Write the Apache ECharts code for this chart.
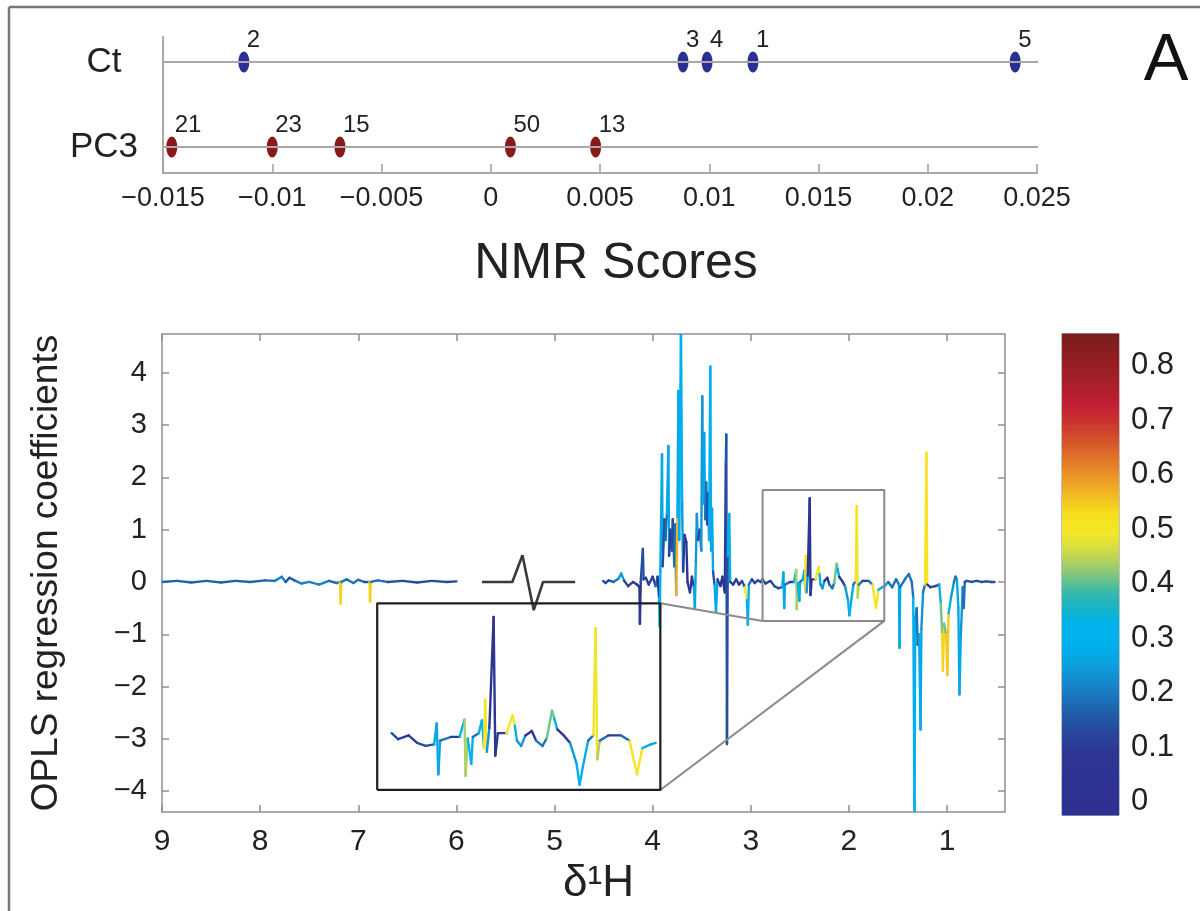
<!DOCTYPE html>
<html><head><meta charset="utf-8">
<script src="https://cdn.jsdelivr.net/npm/echarts@6/dist/echarts.min.js"></script>
<style>html,body{margin:0;padding:0;background:#fff}#c{width:1200px;height:911px}</style>
</head><body><div id="c"></div>
<script>
// ---------------- data ----------------
const rowNames = ['PC3', 'Ct'];
const ctScores = [0.0120, -0.0113, 0.0088, 0.0099, 0.0240];
const ctLabels = ['1', '2', '3', '4', '5'];
const pc3Scores = [-0.0146, -0.0100, -0.0069, 0.0009, 0.0048];
const pc3Labels = ['21', '23', '15', '50', '13'];
const scoreMin = -0.015, scoreMax = 0.025, scoreStep = 0.005, rowLineEnd = 0.0255;

// aromatic region (9.0 - 6.0 ppm)
const aroPpm = [9.00, 8.85, 8.70, 8.55, 8.40, 8.25, 8.10, 7.95, 7.85, 7.78,
  7.74, 7.70, 7.65, 7.58, 7.50, 7.40, 7.30, 7.22, 7.185, 7.180,
  7.172, 7.12, 7.05, 7.00, 6.94, 6.885, 6.880, 6.872, 6.80, 6.70,
  6.55, 6.40, 6.25, 6.10, 6.00];
const aroCoef = [0.00, 0.02, -0.01, 0.02, -0.01, 0.02, 0.00, 0.03, 0.02, 0.10,
  0.00, 0.08, 0.03, -0.03, 0.00, -0.05, 0.02, -0.02, 0.00, -0.42,
  0.00, 0.05, -0.02, 0.04, 0.00, 0.00, -0.38, 0.00, 0.03, 0.00,
  0.02, -0.01, 0.02, 0.00, 0.01];
const aroCorr = [0.20, 0.18, 0.20, 0.18, 0.20, 0.18, 0.20, 0.18, 0.20, 0.22,
  0.18, 0.15, 0.20, 0.22, 0.18, 0.22, 0.18, 0.20, 0.22, 0.55,
  0.20, 0.20, 0.15, 0.20, 0.15, 0.20, 0.55, 0.20, 0.20, 0.12,
  0.15, 0.12, 0.15, 0.12, 0.15];

// aliphatic region (4.5 - 0.5 ppm)
const aliPpm = [4.506, 4.480, 4.450, 4.400, 4.350, 4.320, 4.290, 4.250, 4.200, 4.160,
  4.135, 4.130, 4.122, 4.100, 4.093, 4.070, 4.040, 4.000, 3.970, 3.950,
  3.935, 3.928, 3.922, 3.905, 3.898, 3.880, 3.870, 3.855, 3.840, 3.833,
  3.820, 3.805, 3.795, 3.780, 3.770, 3.760, 3.748, 3.738, 3.730, 3.712,
  3.700, 3.690, 3.675, 3.657, 3.645, 3.620, 3.600, 3.580, 3.570, 3.560, 3.550,
  3.540, 3.520, 3.505, 3.495, 3.488, 3.475, 3.465, 3.455, 3.445, 3.435,
  3.425, 3.413, 3.405, 3.395, 3.385, 3.370, 3.355, 3.340, 3.310, 3.290, 3.265,
  3.255, 3.250, 3.243, 3.235, 3.220, 3.210, 3.180, 3.150, 3.120, 3.090,
  3.060, 3.040, 3.030, 3.020, 2.990, 2.960, 2.930, 2.900, 2.880, 2.850,
  2.800, 2.760, 2.720, 2.680, 2.668, 2.660, 2.652, 2.600, 2.560, 2.537,
  2.532, 2.522, 2.505, 2.498, 2.470, 2.455, 2.445, 2.440, 2.432, 2.420,
  2.400, 2.392, 2.380, 2.340, 2.310, 2.300, 2.290, 2.270, 2.250, 2.220,
  2.200, 2.170, 2.150, 2.125, 2.115, 2.100, 2.070, 2.040, 2.010, 1.995,
  1.980, 1.955, 1.930, 1.920, 1.912, 1.900, 1.860, 1.800, 1.760, 1.725,
  1.700, 1.660, 1.637, 1.600, 1.560, 1.520, 1.490, 1.485, 1.478, 1.430,
  1.390, 1.360, 1.345, 1.332, 1.325, 1.310, 1.300, 1.285, 1.271, 1.262,
  1.245, 1.225, 1.210, 1.203, 1.170, 1.120, 1.080, 1.065, 1.050, 1.043,
  1.030, 1.010, 0.997, 0.985, 0.960, 0.930, 0.915, 0.900, 0.885, 0.874,
  0.860, 0.840, 0.830, 0.820, 0.800, 0.750, 0.700, 0.650, 0.600, 0.550, 0.517];
const aliCoef = [0.02, -0.02, 0.03, 0.00, 0.06, 0.16, 0.02, -0.08, 0.00, -0.05,
  -0.10, -0.80, 0.00, 0.63, 0.05, 0.08, -0.05, 0.10, -0.08, 0.10,
  -0.30, -0.85, 0.20, 2.44, 0.30, 1.20, 0.80, 1.30, 2.60, 0.50,
  1.00, 0.60, 1.20, 0.30, 1.10, -0.25, 1.25, 3.65, 0.80, 4.90,
  1.50, 0.20, 0.90, 0.76, 0.00, -0.20, 0.10, -0.10, -0.50, 0.40, 1.30,
  0.80, 1.00, 0.60, 3.55, 1.50, 2.85, 1.20, 1.90, 1.10, 1.70,
  0.80, 4.12, 0.60, 1.40, 0.20, -0.05, -0.57, 0.05, -0.08, 0.10, -0.20,
  2.28, 2.82, -3.10, 0.50, 1.30, 0.00, -0.05, 0.05, -0.05, 0.02,
  -0.10, -0.35, -0.82, -0.05, 0.05, -0.02, 0.03, 0.00, 0.05, -0.03,
  0.02, -0.08, -0.12, -0.10, 0.18, -0.50, -0.05, 0.00, 0.00, 0.23,
  -0.52, -0.02, -0.36, 0.00, 0.05, 0.22, -0.15, 0.50, -0.20, 0.12,
  1.60, -0.25, 0.05, 0.05, 0.29, 0.15, -0.05, -0.12, 0.02, 0.08,
  -0.05, -0.12, -0.02, 0.35, 0.25, 0.10, 0.02, -0.08, -0.35, -0.64,
  -0.40, -0.05, 0.02, 1.45, -0.30, -0.05, 0.02, 0.02, -0.05, -0.50,
  -0.15, -0.10, -0.08, 0.00, -0.10, 0.05, -0.05, -1.26, -0.10, 0.05,
  0.15, 0.00, -0.30, -4.50, -0.70, -0.50, -1.20, -1.00, -2.82, -0.90,
  -0.20, -0.05, 2.47, -0.05, -0.10, -0.08, -0.05, -0.40, -1.00, -1.70,
  -0.80, -1.00, -1.78, -0.60, -0.30, 0.00, 0.10, 0.05, -0.50, -2.15,
  -1.00, -0.10, -0.50, 0.00, 0.02, 0.00, 0.02, 0.00, 0.01, 0.00, 0.00];
const aliCorr = [0.15, 0.12, 0.15, 0.12, 0.20, 0.25, 0.15, 0.12, 0.12, 0.10,
  0.10, 0.08, 0.10, 0.15, 0.12, 0.12, 0.10, 0.12, 0.10, 0.20,
  0.08, 0.30, 0.25, 0.28, 0.20, 0.15, 0.12, 0.20, 0.28, 0.15,
  0.12, 0.10, 0.15, 0.08, 0.20, 0.06, 0.58, 0.28, 0.20, 0.30,
  0.25, 0.15, 0.12, 0.08, 0.10, 0.08, 0.12, 0.10, 0.28, 0.20, 0.25,
  0.20, 0.15, 0.12, 0.25, 0.20, 0.28, 0.15, 0.20, 0.12, 0.15,
  0.12, 0.30, 0.20, 0.28, 0.15, 0.12, 0.28, 0.10, 0.12, 0.10, 0.08,
  0.10, 0.28, 0.15, 0.20, 0.32, 0.15, 0.12, 0.12, 0.10, 0.12,
  0.15, 0.50, 0.30, 0.20, 0.12, 0.12, 0.15, 0.12, 0.15, 0.12,
  0.15, 0.12, 0.15, 0.20, 0.28, 0.28, 0.20, 0.12, 0.15, 0.30,
  0.45, 0.20, 0.30, 0.15, 0.20, 0.30, 0.15, 0.52, 0.25, 0.30,
  0.08, 0.08, 0.12, 0.12, 0.50, 0.30, 0.20, 0.25, 0.15, 0.06,
  0.12, 0.20, 0.15, 0.42, 0.30, 0.10, 0.08, 0.12, 0.25, 0.30,
  0.28, 0.20, 0.12, 0.52, 0.45, 0.20, 0.12, 0.12, 0.20, 0.52,
  0.30, 0.28, 0.25, 0.15, 0.20, 0.20, 0.15, 0.28, 0.20, 0.15,
  0.20, 0.15, 0.20, 0.30, 0.25, 0.15, 0.20, 0.25, 0.28, 0.25,
  0.20, 0.15, 0.52, 0.30, 0.12, 0.12, 0.15, 0.30, 0.42, 0.55,
  0.40, 0.42, 0.56, 0.35, 0.25, 0.20, 0.20, 0.20, 0.28, 0.28,
  0.25, 0.20, 0.20, 0.15, 0.15, 0.15, 0.15, 0.15, 0.15, 0.15, 0.15];

// axis-break glyph drawn in the removed water region
const breakPpm = [5.74, 5.43, 5.327, 5.212, 5.117, 4.79];
const breakVal = [0, 0, 0.51, -0.54, 0, 0];

// zoom box (source) and the enlarged inset
const zoomPpm = [2.88, 1.64];
const zoomVal = [-0.745, 1.76];
const insetPpm = [6.807, 3.922];
const insetVal = [-3.977, -0.409];
const insetView = [2.948, 1.615];

const specX = [0.41, 9.0];
const specY = [-4.40, 4.74];
const ppmTicks = [9, 8, 7, 6, 5, 4, 3, 2, 1];
const coefTicks = [-4, -3, -2, -1, 0, 1, 2, 3, 4];

const cbarRange = [-0.013, 0.869];
const corrTicks = [0, 0.1, 0.2, 0.3, 0.4, 0.5, 0.6, 0.7, 0.8];
const cmapStops = [0.00, 0.10, 0.14, 0.18, 0.22, 0.26, 0.30, 0.34, 0.37, 0.40, 0.43, 0.46, 0.50, 0.54, 0.58, 0.62, 0.66, 0.70, 0.74, 0.78, 0.82, 0.87];
const cmapColors = ['#2e3092', '#2d3592', '#27479c', '#1e63ad', '#1a80c6', '#0d9fdd', '#00b0ee', '#00b2e8', '#18b4c2', '#3fbaa6', '#86c77a', '#bcd655', '#f3e82a', '#f7df1e', '#f0b324', '#e88a28', '#d9602a', '#cc3a2c', '#c41e36', '#a82028', '#921d22', '#7a1c1e'];

// ---------------- helpers ----------------
const FONT = '"Liberation Sans", Arial, Helvetica, sans-serif';
const TXT = '#222';
const AX = '#8e8e8e';
function hexToRgb(h) { const n = parseInt(h.slice(1), 16); return [(n >> 16) & 255, (n >> 8) & 255, n & 255]; }
function colorAt(c) {
  if (c <= cmapStops[0]) return cmapColors[0];
  for (let i = 0; i < cmapStops.length - 1; i++) {
    if (c <= cmapStops[i + 1]) {
      const t = (c - cmapStops[i]) / (cmapStops[i + 1] - cmapStops[i]);
      const a = hexToRgb(cmapColors[i]), b = hexToRgb(cmapColors[i + 1]);
      return 'rgb(' + a.map((x, k) => Math.round(x + (b[k] - x) * t)).join(',') + ')';
    }
  }
  return cmapColors[cmapColors.length - 1];
}
function segments(ppm, coef, corr, lo, hi) {
  const s = [];
  for (let i = 0; i < ppm.length - 1; i++) {
    if (lo !== undefined && (ppm[i] > hi || ppm[i + 1] < lo)) continue;
    const c = Math.abs(coef[i]) >= Math.abs(coef[i + 1]) ? corr[i] : corr[i + 1];
    s.push([ppm[i], coef[i], ppm[i + 1], coef[i + 1], c]);
  }
  return s;
}
const minus = v => (v < 0 ? '\u2212' + String(Math.abs(v)) : String(v));

// layout of the spectrum grid (pixels)
const G1 = { left: 162, top: 334, width: 843, height: 481 };
const px = p => G1.left + (specX[1] - p) / (specX[1] - specX[0]) * G1.width;
const py = v => G1.top + (specY[1] - v) / (specY[1] - specY[0]) * G1.height;
const G2 = { left: px(insetPpm[0]), top: py(insetVal[1]), width: px(insetPpm[1]) - px(insetPpm[0]), height: py(insetVal[0]) - py(insetVal[1]) };

const specSegs = segments(aroPpm, aroCoef, aroCorr).concat(segments(aliPpm, aliCoef, aliCorr));
const insetSegs = segments(aliPpm, aliCoef, aliCorr, zoomPpm[1] - 0.004, zoomPpm[0] + 0.001);

function lineRender(width) {
  return function (params, api) {
    const p1 = api.coord([api.value(0), api.value(1)]);
    const p2 = api.coord([api.value(2), api.value(3)]);
    return { type: 'line', shape: { x1: p1[0], y1: p1[1], x2: p2[0], y2: p2[1] },
      style: { stroke: colorAt(api.value(4)), lineWidth: width, lineCap: 'round' } };
  };
}

const bands = cmapStops.slice(0, -1).map((s, i) => [i === 0 ? cbarRange[0] : s, cmapStops[i + 1], i]);

const boxLine = (xs, ys, color, w, z) => ({
  type: 'line', xAxisIndex: 1, yAxisIndex: 1, symbol: 'none', silent: true, clip: false, z: z || 5,
  data: xs.map((x, i) => [x, ys[i]]), lineStyle: { color: color, width: w }
});

const noLine = { show: false, onZero: false };
const specTick = { show: true, inside: true, length: 7, customValues: ppmTicks, lineStyle: { color: AX, width: 1.5 } };
const coefTick = { show: true, inside: true, length: 7, customValues: coefTicks, lineStyle: { color: AX, width: 1.5 } };
const cbarTick = { show: true, inside: true, length: 5, customValues: corrTicks, lineStyle: { color: '#666', width: 1.5 } };
const dotLabel = { show: true, formatter: p => p.value[2], position: [8.5, 1], align: 'left', verticalAlign: 'bottom', fontSize: 24, color: TXT, fontFamily: FONT };

const option = {
  animation: false,
  backgroundColor: '#fff',
  textStyle: { fontFamily: FONT },
  grid: [
    { left: 163, top: 37, width: 874, height: 136 },
    { left: G1.left, top: G1.top, width: G1.width, height: G1.height, show: true, borderColor: AX, borderWidth: 1.5, backgroundColor: 'transparent' },
    { left: G2.left, top: G2.top, width: G2.width, height: G2.height },
    { left: 1062, top: 334, width: 57, height: 481, show: true, borderColor: '#999', borderWidth: 1.2 }
  ],
  xAxis: [
    { gridIndex: 0, type: 'value', min: scoreMin, max: scoreMax, interval: scoreStep,
      axisLine: { show: true, onZero: false, lineStyle: { color: '#a8a8a8', width: 2 } },
      axisTick: { show: true, inside: true, length: 9, lineStyle: { color: '#a0a0a0', width: 1.5 } },
      splitLine: { show: false },
      axisLabel: { fontSize: 27, color: TXT, margin: 12, fontFamily: FONT,
        formatter: v => minus(Math.round(v * 1000) / 1000) },
      name: 'NMR Scores', nameLocation: 'middle', nameGap: 66,
      nameTextStyle: { fontSize: 50, color: TXT, fontFamily: FONT, padding: [0, 0, 0, 32] } },
    { gridIndex: 1, type: 'value', min: specX[0], max: specX[1], inverse: true,
      axisLine: noLine, axisTick: specTick, splitLine: { show: false },
      axisLabel: { customValues: ppmTicks, fontSize: 30, color: TXT, margin: 15, fontFamily: FONT },
      name: '\u03b4\u00b9H', nameLocation: 'middle', nameGap: 44,
      nameTextStyle: { fontSize: 44, color: TXT, fontFamily: FONT, padding: [0, 0, 0, 30] } },
    { gridIndex: 1, type: 'value', position: 'top', min: specX[0], max: specX[1], inverse: true,
      axisLine: noLine, axisTick: specTick, splitLine: { show: false }, axisLabel: { show: false } },
    { gridIndex: 2, type: 'value', min: insetView[1], max: insetView[0], inverse: true, show: false, axisLine: noLine, splitLine: { show: false } },
    { gridIndex: 3, type: 'value', min: 0, max: 1, show: false, axisLine: noLine, splitLine: { show: false } }
  ],
  yAxis: [
    { gridIndex: 0, type: 'value', min: 0.694, max: 2.294,
      axisLine: { show: true, onZero: false, lineStyle: { color: '#a8a8a8', width: 2 } },
      axisTick: { show: false }, splitLine: { show: false },
      axisLabel: { customValues: [1, 2], formatter: v => rowNames[Math.round(v) - 1], fontSize: 35, color: TXT,
        align: 'center', margin: 59, fontFamily: FONT } },
    { gridIndex: 1, type: 'value', min: specY[0], max: specY[1],
      axisLine: noLine, axisTick: coefTick, splitLine: { show: false },
      axisLabel: { customValues: coefTicks, formatter: minus, fontSize: 29, color: TXT, margin: 15, fontFamily: FONT },
      name: 'OPLS regression coefficients', nameLocation: 'middle', nameRotate: 90, nameGap: 97,
      nameTextStyle: { fontSize: 37, color: TXT, fontFamily: FONT } },
    { gridIndex: 1, type: 'value', position: 'right', min: specY[0], max: specY[1],
      axisLine: noLine, axisTick: coefTick, splitLine: { show: false }, axisLabel: { show: false } },
    { gridIndex: 2, type: 'value', min: zoomVal[0], max: zoomVal[1], show: false, axisLine: noLine, splitLine: { show: false } },
    { gridIndex: 3, type: 'value', min: cbarRange[0], max: cbarRange[1], position: 'left',
      axisLine: noLine, axisTick: cbarTick, splitLine: { show: false }, axisLabel: { show: false } },
    { gridIndex: 3, type: 'value', min: cbarRange[0], max: cbarRange[1], position: 'right',
      axisLine: noLine, axisTick: cbarTick, splitLine: { show: false },
      axisLabel: { customValues: corrTicks, formatter: v => (v === 0 ? '0' : v.toFixed(1)), fontSize: 31, color: TXT,
        margin: 12, fontFamily: FONT, verticalAlign: 'bottom', lineHeight: 12 } }
  ],
  graphic: [
    { type: 'line', shape: { x1: 9, y1: 7, x2: 1200, y2: 7 }, style: { stroke: '#777', lineWidth: 2.5 }, silent: true },
    { type: 'line', shape: { x1: 9, y1: 7, x2: 9, y2: 911 }, style: { stroke: '#777', lineWidth: 2.5 }, silent: true },
    { type: 'text', x: 1166, y: 62, style: { text: 'A', fontSize: 67, fontFamily: FONT, fill: '#111', align: 'center', verticalAlign: 'middle' }, silent: true }
  ],
  series: [
    { type: 'line', xAxisIndex: 0, yAxisIndex: 0, symbol: 'none', clip: false, silent: true,
      data: [[scoreMin, 2], [rowLineEnd, 2]], lineStyle: { color: '#a8a8a8', width: 2 } },
    { type: 'line', xAxisIndex: 0, yAxisIndex: 0, symbol: 'none', clip: false, silent: true,
      data: [[scoreMin, 1], [rowLineEnd, 1]], lineStyle: { color: '#a8a8a8', width: 2 } },
    { type: 'scatter', xAxisIndex: 0, yAxisIndex: 0, symbol: 'circle', symbolSize: [11, 21], clip: false,
      itemStyle: { color: '#2a2f96', opacity: 1 },
      data: ctScores.map((x, i) => [x, 2, ctLabels[i]]), label: dotLabel },
    { type: 'scatter', xAxisIndex: 0, yAxisIndex: 0, symbol: 'circle', symbolSize: [11, 21], clip: false,
      itemStyle: { color: '#8a1a1a', opacity: 1 },
      data: pc3Scores.map((x, i) => [x, 1, pc3Labels[i]]), label: dotLabel },

    { type: 'custom', xAxisIndex: 1, yAxisIndex: 1, clip: true, silent: true, z: 3,
      encode: { x: [0, 2], y: [1, 3] }, data: specSegs, renderItem: lineRender(2.4) },
    { type: 'line', xAxisIndex: 1, yAxisIndex: 1, symbol: 'none', silent: true, z: 4,
      data: breakPpm.map((x, i) => [x, breakVal[i]]), lineStyle: { color: '#3a3a3a', width: 2.6 } },
    boxLine([zoomPpm[0], zoomPpm[0], zoomPpm[1], zoomPpm[1], zoomPpm[0]], [zoomVal[0], zoomVal[1], zoomVal[1], zoomVal[0], zoomVal[0]], '#8a8a8a', 2, 5),
    boxLine([zoomPpm[0], insetPpm[1]], [zoomVal[0], insetVal[1]], '#8a8a8a', 2, 5),
    boxLine([zoomPpm[1], insetPpm[1]], [zoomVal[0], insetVal[0]], '#8a8a8a', 2, 5),
    boxLine([insetPpm[0], insetPpm[0], insetPpm[1], insetPpm[1], insetPpm[0]], [insetVal[0], insetVal[1], insetVal[1], insetVal[0], insetVal[0]], '#1e1e1e', 2.2, 6),
    { type: 'custom', xAxisIndex: 3, yAxisIndex: 3, clip: true, silent: true, z: 3,
      encode: { x: [0, 2], y: [1, 3] }, data: insetSegs, renderItem: lineRender(2.4) },

    { type: 'custom', xAxisIndex: 4, yAxisIndex: 4, silent: true, z: 1,
      encode: { x: -1, y: [0, 1] }, data: bands,
      renderItem: function (params, api) {
        const i = api.value(2);
        const a = api.coord([0, api.value(1)]);
        const b = api.coord([1, api.value(0)]);
        return { type: 'rect', shape: { x: a[0], y: a[1], width: b[0] - a[0], height: b[1] - a[1] + 0.6 },
          style: { fill: new echarts.graphic.LinearGradient(0, 1, 0, 0, [{ offset: 0, color: cmapColors[i] }, { offset: 1, color: cmapColors[i + 1] }]) } };
      } }
  ]
};
const chart = echarts.init(document.getElementById('c'), null, { renderer: 'canvas' });
chart.setOption(option);
</script>
</body></html>
